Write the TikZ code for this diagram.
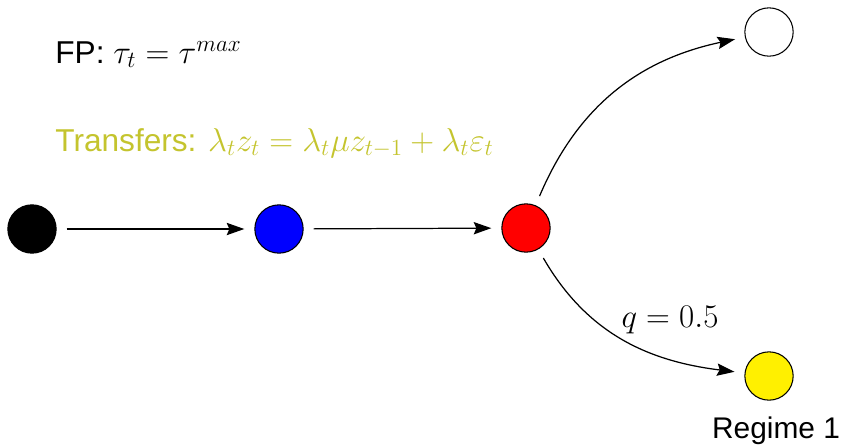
\RequirePackage{fix-cm}
\documentclass[tikz,border=0pt]{standalone}
\usepackage{fontspec}
\setmainfont{Liberation Sans}
\usetikzlibrary{arrows.meta}
\definecolor{olivetxt}{RGB}{196,196,46}
\definecolor{nodeyellow}{RGB}{255,240,0}
\newcommand{\bigmath}[1]{{\fontsize{18.8}{22}\selectfont$#1$}}
\tikzset{
  state/.style={circle, draw=black, line width=0.6pt, minimum size=27.5pt, inner sep=0pt, outer sep=6pt},
  conn/.style={line width=0.7pt, -{Stealth[length=10pt,width=7pt,inset=1.5pt]}},
  lbl/.style={inner sep=0pt, font=\fontsize{17}{20}\selectfont},
  biglbl/.style={inner sep=0pt, font=\fontsize{18}{21}\selectfont}
}
\begin{document}
\begin{tikzpicture}[x=0.02cm, y=-0.02cm]
\useasboundingbox (0,0) rectangle (844,444);
\node[state, fill=black] (n0) at (32,229) {};
\node[state, fill=blue] (n1) at (279,229) {};
\node[state, fill=red] (n2) at (526,228) {};
\node[state, fill=white] (n3) at (769,32) {};
\node[state, fill=nodeyellow] (n4) at (769,376) {};
\draw[conn] (n0) -- (n1);
\draw[conn] (n1) -- (n2);
\draw[conn] (n2) to[out=67, in=192] (n3);
\draw[conn] (n2) to[out=-60, in=173] (n4);
\node[biglbl, anchor=base west] (fp) at (55,63) {FP: \bigmath{\tau_t = \tau^{max}}};
\node[biglbl, anchor=base west, text=olivetxt] (tr) at (55,151) {Transfers: \bigmath{\lambda_t z_t = \lambda_t \mu z_{t-1} + \lambda_t \varepsilon_t}};
\node[biglbl, anchor=base] (q) at (670,327) {\bigmath{q = 0.5}};
\node[lbl, anchor=base] (reg) at (776,438) {Regime 1};
\end{tikzpicture}
\end{document}
